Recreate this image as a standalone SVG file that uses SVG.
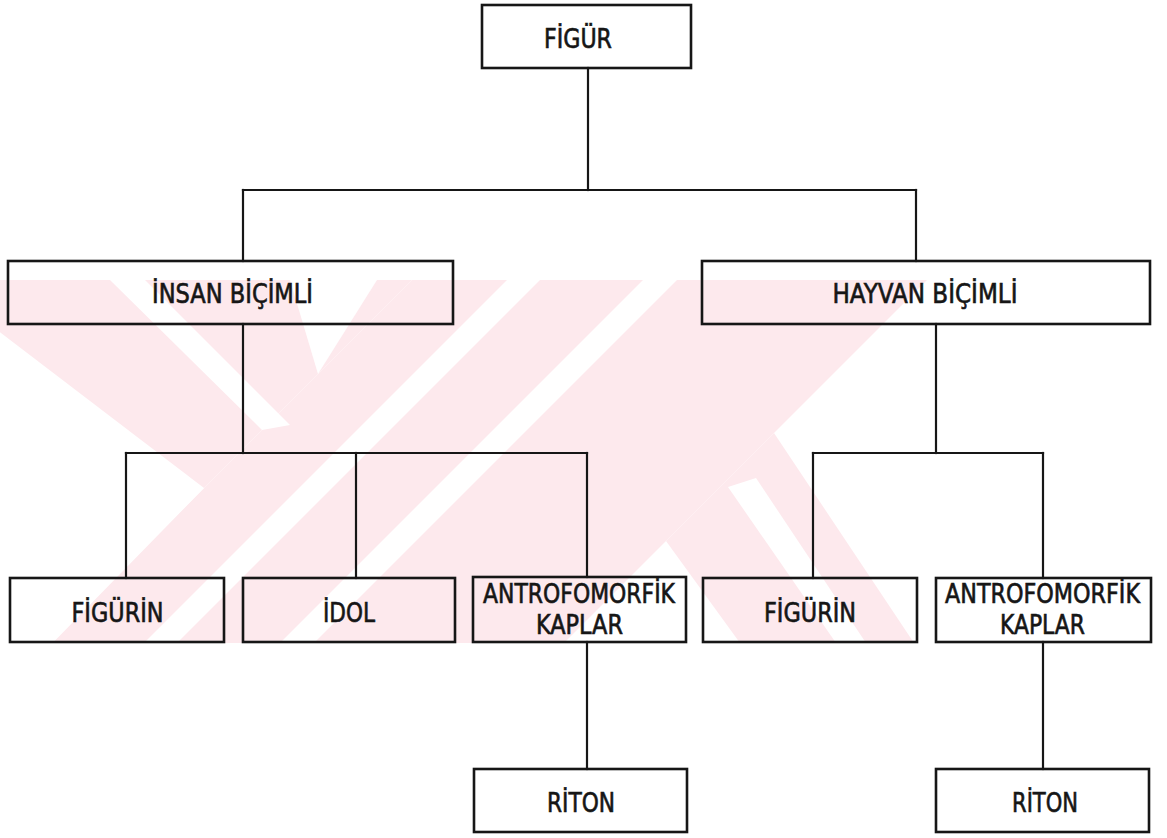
<svg xmlns="http://www.w3.org/2000/svg" width="1167" height="838" viewBox="0 0 1167 838">
  <style>
    .box { fill: none; stroke: #161616; stroke-width: 2.6; }
    .wire { fill: none; stroke: #161616; stroke-width: 2.2; stroke-linecap: square; }
    .lbl { font-family: "Liberation Sans Narrow", "DejaVu Sans Condensed", "Liberation Sans", sans-serif; font-size: 26px; fill: #161616; stroke: #161616; stroke-width: 0.6; text-anchor: middle; }
    .wm { fill: #fde9ed; }
    .gap { fill: #ffffff; }
  </style>
  <defs>
    <clipPath id="wmClip">
      <rect x="0" y="280" width="940" height="363"/>
    </clipPath>
  </defs>

  <rect width="1167" height="838" fill="#ffffff"/>

  <!-- pale background emblem made of slanted bands -->
  <g id="emblem" clip-path="url(#wmClip)">
    <!-- long "/" strokes -->
    <polygon class="wm" points="412,280 507,280 144,643 49,643"/>
    <polygon class="wm" points="540,280 643,280 280,643 177,643"/>
    <polygon class="wm" points="677,280 927,280 564,643 314,643"/>
    <!-- short "\" arm ending on the long stroke -->
    <polygon class="wm" points="-3,280 412,280 204,488 -3,488"/>
    <polygon class="gap" points="-3,330 -3,700 204,488"/>
    <polygon class="gap" points="110,280 145,280 290,425 262,430"/>
    <polygon class="gap" points="290,280 377,280 318,374"/>
    <!-- lower arm of the right-hand chevron -->
    <polygon class="wm" points="666,541 774,433 914,643 740,643"/>
    <polygon class="gap" points="728,487 756,478 866,643 836,643"/>
  </g>

  <!-- connectors -->
  <g id="connectors">
    <path class="wire" d="M588,68 V190"/>
    <path class="wire" d="M243,190 H916"/>
    <path class="wire" d="M243,190 V261"/>
    <path class="wire" d="M916,190 V261"/>
    <path class="wire" d="M243,324 V453"/>
    <path class="wire" d="M126,453 H587"/>
    <path class="wire" d="M126,453 V578"/>
    <path class="wire" d="M356,453 V578"/>
    <path class="wire" d="M587,453 V577"/>
    <path class="wire" d="M936,324 V453"/>
    <path class="wire" d="M813,453 H1043"/>
    <path class="wire" d="M813,453 V578"/>
    <path class="wire" d="M1043,453 V578"/>
    <path class="wire" d="M587,642 V769"/>
    <path class="wire" d="M1043,642 V769"/>
  </g>

  <!-- nodes -->
  <g id="figur">
    <rect class="box" x="482" y="5" width="209" height="63"/>
    <text class="lbl" x="578" y="48" textLength="68" lengthAdjust="spacingAndGlyphs">FİGÜR</text>
  </g>
  <g id="insan-bicimli">
    <rect class="box" x="8" y="261" width="445" height="63"/>
    <text class="lbl" x="232.5" y="303" textLength="161" lengthAdjust="spacingAndGlyphs">İNSAN BİÇİMLİ</text>
  </g>
  <g id="hayvan-bicimli">
    <rect class="box" x="702" y="261" width="448" height="63"/>
    <text class="lbl" x="925" y="303" textLength="185" lengthAdjust="spacingAndGlyphs">HAYVAN BİÇİMLİ</text>
  </g>
  <g id="insan-figurin">
    <rect class="box" x="10" y="578" width="214" height="64"/>
    <text class="lbl" x="117.5" y="622" textLength="92" lengthAdjust="spacingAndGlyphs">FİGÜRİN</text>
  </g>
  <g id="idol">
    <rect class="box" x="243" y="578" width="212" height="64"/>
    <text class="lbl" x="349" y="622" textLength="52" lengthAdjust="spacingAndGlyphs">İDOL</text>
  </g>
  <g id="insan-kaplar">
    <rect class="box" x="473" y="577" width="213" height="65"/>
    <text class="lbl" x="579" y="603" textLength="192" lengthAdjust="spacingAndGlyphs">ANTROFOMORFİK</text>
    <text class="lbl" x="579.5" y="634" textLength="87" lengthAdjust="spacingAndGlyphs">KAPLAR</text>
  </g>
  <g id="hayvan-figurin">
    <rect class="box" x="703" y="578" width="214" height="64"/>
    <text class="lbl" x="810" y="622" textLength="92" lengthAdjust="spacingAndGlyphs">FİGÜRİN</text>
  </g>
  <g id="hayvan-kaplar">
    <rect class="box" x="936" y="578" width="215" height="64"/>
    <text class="lbl" x="1042.5" y="603" textLength="195" lengthAdjust="spacingAndGlyphs">ANTROFOMORFİK</text>
    <text class="lbl" x="1042.5" y="634" textLength="85" lengthAdjust="spacingAndGlyphs">KAPLAR</text>
  </g>
  <g id="insan-riton">
    <rect class="box" x="474" y="769" width="213" height="63"/>
    <text class="lbl" x="581" y="812" textLength="68" lengthAdjust="spacingAndGlyphs">RİTON</text>
  </g>
  <g id="hayvan-riton">
    <rect class="box" x="936" y="769" width="213" height="63"/>
    <text class="lbl" x="1045" y="812" textLength="66" lengthAdjust="spacingAndGlyphs">RİTON</text>
  </g>
</svg>
